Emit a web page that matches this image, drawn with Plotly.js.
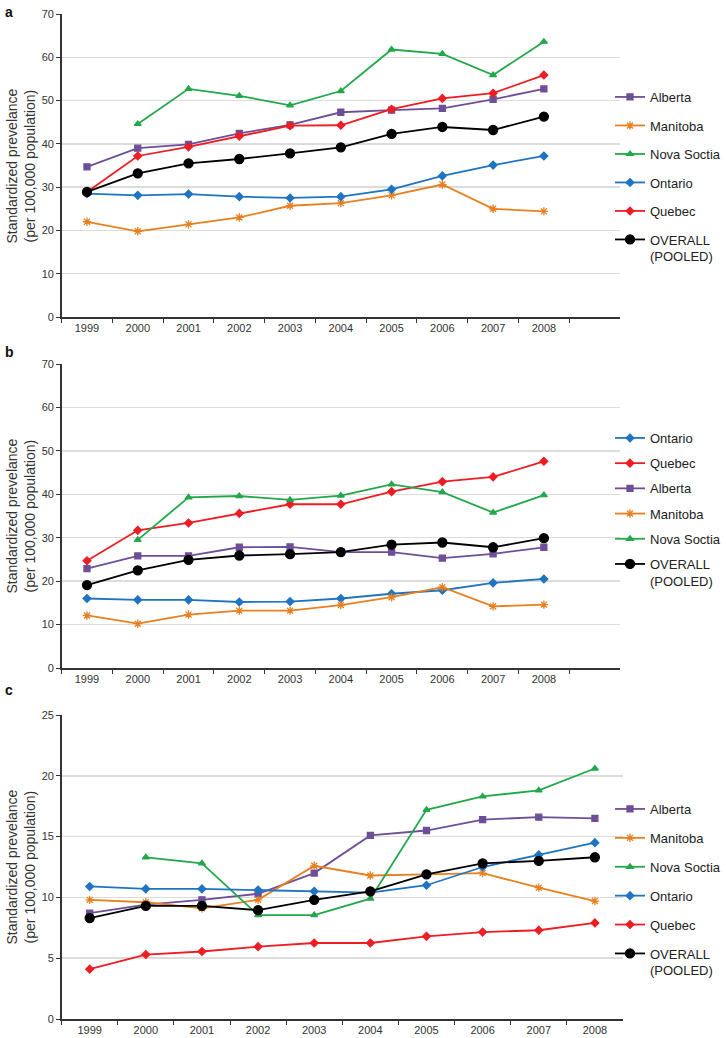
<!DOCTYPE html>
<html>
<head>
<meta charset="utf-8">
<script src="https://cdn.plot.ly/plotly-3.0.1.min.js"></script>
<style>html,body{margin:0;padding:0;background:#fff;}#chart{width:726px;height:1038px;}</style>
</head>
<body>
<div id="chart"></div>
<script>
// ---------- DATA ----------
const years = ['1999','2000','2001','2002','2003','2004','2005','2006','2007','2008'];

// Panel a
const aAlberta  = [34.7, 39.0, 39.9, 42.4, 44.4, 47.3, 47.8, 48.2, 50.3, 52.7];
const aManitoba = [22.0, 19.8, 21.4, 23.0, 25.7, 26.3, 28.1, 30.6, 25.0, 24.4];
const aNovaScotia = [null, 44.6, 52.7, 51.1, 48.9, 52.2, 61.8, 60.8, 55.9, 63.6];
const aOntario  = [28.5, 28.1, 28.4, 27.8, 27.5, 27.8, 29.5, 32.6, 35.1, 37.2];
const aQuebec   = [28.9, 37.2, 39.3, 41.8, 44.2, 44.3, 48.0, 50.5, 51.7, 55.9];
const aOverall  = [28.9, 33.2, 35.5, 36.5, 37.8, 39.2, 42.3, 43.9, 43.2, 46.3];

// Panel b
const bOntario  = [16.0, 15.7, 15.7, 15.2, 15.3, 16.0, 17.1, 17.9, 19.6, 20.5];
const bQuebec   = [24.7, 31.7, 33.4, 35.6, 37.7, 37.7, 40.6, 42.9, 44.0, 47.6];
const bAlberta  = [22.9, 25.8, 25.8, 27.8, 27.9, 26.7, 26.7, 25.3, 26.3, 27.8];
const bManitoba = [12.1, 10.2, 12.3, 13.2, 13.2, 14.5, 16.3, 18.6, 14.2, 14.6];
const bNovaScotia = [null, 29.5, 39.3, 39.6, 38.7, 39.7, 42.3, 40.5, 35.8, 39.8];
const bOverall  = [19.1, 22.5, 24.9, 25.9, 26.2, 26.7, 28.4, 28.9, 27.8, 29.9];

// Panel c
const cAlberta  = [8.7, 9.4, 9.8, 10.3, 12.0, 15.1, 15.5, 16.4, 16.6, 16.5];
const cManitoba = [9.8, 9.6, 9.1, 9.8, 12.6, 11.8, 11.9, 12.0, 10.8, 9.7];
const cNovaScotia = [null, 13.3, 12.8, 8.55, 8.55, 9.9, 17.2, 18.3, 18.8, 20.6];
const cOntario  = [10.9, 10.7, 10.7, 10.6, 10.5, 10.4, 11.0, 12.5, 13.5, 14.5];
const cQuebec   = [4.1, 5.3, 5.55, 5.95, 6.25, 6.25, 6.8, 7.15, 7.3, 7.9];
const cOverall  = [8.3, 9.3, 9.3, 8.95, 9.8, 10.5, 11.9, 12.8, 13.0, 13.3];

const yTitle = 'Standardized prevelance<br>(per 100,000 population)';
const overallLabel = 'OVERALL<br>(POOLED)';

// ---------- STYLES ----------
const S = {
  Alberta:  {color:'#6e4f97', symbol:'square', size:6},
  Manitoba: {color:'#e8801f', symbol:'asterisk-open', size:7},
  Nova:     {color:'#22a84a', symbol:'triangle-up', size:6},
  Ontario:  {color:'#1f74c2', symbol:'diamond', size:6},
  Quebec:   {color:'#ee1d23', symbol:'diamond', size:6},
  Overall:  {color:'#000000', symbol:'circle', size:9}
};

function tr(name, y, style, xa, ya, leg, grp){
  return {
    type:'scatter', mode:'lines+markers', name:name, x:years, y:y,
    xaxis:xa, yaxis:ya, legend:leg, legendgroup:grp,
    connectgaps:false,
    line:{color:style.color, width:1.8},
    marker:{color:style.color, symbol:style.symbol, size:style.size,
            line:{color:style.color, width:1.3}}
  };
}

const data = [
  tr('Alberta', aAlberta, S.Alberta, 'x', 'y', 'legend', 'a1'),
  tr('Manitoba', aManitoba, S.Manitoba, 'x', 'y', 'legend', 'a2'),
  tr('Nova Soctia', aNovaScotia, S.Nova, 'x', 'y', 'legend', 'a3'),
  tr('Ontario', aOntario, S.Ontario, 'x', 'y', 'legend', 'a4'),
  tr('Quebec', aQuebec, S.Quebec, 'x', 'y', 'legend', 'a5'),
  tr(overallLabel, aOverall, S.Overall, 'x', 'y', 'legend', 'a6'),

  tr('Ontario', bOntario, S.Ontario, 'x2', 'y2', 'legend2', 'b1'),
  tr('Quebec', bQuebec, S.Quebec, 'x2', 'y2', 'legend2', 'b2'),
  tr('Alberta', bAlberta, S.Alberta, 'x2', 'y2', 'legend2', 'b3'),
  tr('Manitoba', bManitoba, S.Manitoba, 'x2', 'y2', 'legend2', 'b4'),
  tr('Nova Soctia', bNovaScotia, S.Nova, 'x2', 'y2', 'legend2', 'b5'),
  tr(overallLabel, bOverall, S.Overall, 'x2', 'y2', 'legend2', 'b6'),

  tr('Alberta', cAlberta, S.Alberta, 'x3', 'y3', 'legend3', 'c1'),
  tr('Manitoba', cManitoba, S.Manitoba, 'x3', 'y3', 'legend3', 'c2'),
  tr('Nova Soctia', cNovaScotia, S.Nova, 'x3', 'y3', 'legend3', 'c3'),
  tr('Ontario', cOntario, S.Ontario, 'x3', 'y3', 'legend3', 'c4'),
  tr('Quebec', cQuebec, S.Quebec, 'x3', 'y3', 'legend3', 'c5'),
  tr(overallLabel, cOverall, S.Overall, 'x3', 'y3', 'legend3', 'c6')
];

const W = 726, H = 1038;
const fy = p => 1 - p / H;
const fx = p => p / W;

function xax(dom, anchor, rng){
  return {
    type:'category', domain:dom, anchor:anchor, range:rng,
    showline:true, linecolor:'#333', linewidth:1.5,
    ticks:'outside', tickson:'boundaries', ticklen:4, tickcolor:'#333', tickwidth:1,
    showgrid:false, zeroline:false, fixedrange:true,
    tickfont:{family:'Liberation Sans, Arial, sans-serif', size:11, color:'#333'}
  };
}
function yax(dom, anchor, rng, dt){
  return {
    domain:dom, anchor:anchor, range:rng, dtick:dt, tick0:0,
    showline:true, linecolor:'#333', linewidth:1.5,
    ticks:'outside', ticklen:4, tickcolor:'#333', tickwidth:1,
    showgrid:true, gridcolor:'#dcdcdc', gridwidth:1.5, zeroline:false, fixedrange:true,
    tickfont:{family:'Liberation Sans, Arial, sans-serif', size:11, color:'#333'}
  };
}
function leg(xp, yp, gap){
  return {
    x:fx(xp), y:fy(yp), xanchor:'left', yanchor:'top',
    bgcolor:'rgba(0,0,0,0)', borderwidth:0,
    tracegroupgap:gap, itemwidth:30, valign:'top',
    font:{family:'Liberation Sans, Arial, sans-serif', size:13, color:'#222'}
  };
}

const layout = {
  width:W, height:H,
  margin:{l:0, r:0, t:0, b:0},
  paper_bgcolor:'#fff', plot_bgcolor:'#fff',
  showlegend:true,
  font:{family:'Liberation Sans, Arial, sans-serif', color:'#333'},
  xaxis:  xax([fx(63), fx(634)], 'y',  [-0.5, 10.5]),
  yaxis:  yax([fy(317), fy(14)], 'x',  [0, 70], 10),
  xaxis2: xax([fx(63), fx(634)], 'y2', [-0.5, 10.5]),
  yaxis2: yax([fy(668), fy(364)], 'x2', [0, 70], 10),
  xaxis3: xax([fx(63), fx(637)], 'y3', [-0.5, 9.5]),
  yaxis3: yax([fy(1019), fy(715)], 'x3', [0, 25], 5),
  legend:  leg(624, 82, 8.6),
  legend2: leg(624, 423, 5.3),
  legend3: leg(624, 794, 9),
  annotations: [
    {text:'<b>a</b>', xref:'paper', yref:'paper', x:fx(3), y:fy(2), xanchor:'left', yanchor:'top', showarrow:false, font:{size:14, color:'#111'}},
    {text:'<b>b</b>', xref:'paper', yref:'paper', x:fx(3), y:fy(342), xanchor:'left', yanchor:'top', showarrow:false, font:{size:14, color:'#111'}},
    {text:'<b>c</b>', xref:'paper', yref:'paper', x:fx(3), y:fy(680), xanchor:'left', yanchor:'top', showarrow:false, font:{size:14, color:'#111'}},
    {text:yTitle, xref:'paper', yref:'paper', x:fx(21), y:fy(166), textangle:-90, xanchor:'center', yanchor:'middle', showarrow:false, font:{size:14, color:'#333'}},
    {text:yTitle, xref:'paper', yref:'paper', x:fx(21), y:fy(516), textangle:-90, xanchor:'center', yanchor:'middle', showarrow:false, font:{size:14, color:'#333'}},
    {text:yTitle, xref:'paper', yref:'paper', x:fx(21), y:fy(867), textangle:-90, xanchor:'center', yanchor:'middle', showarrow:false, font:{size:14, color:'#333'}}
  ]
};

Plotly.newPlot('chart', data, layout, {displayModeBar:false, staticPlot:true});
</script>
</body>
</html>
